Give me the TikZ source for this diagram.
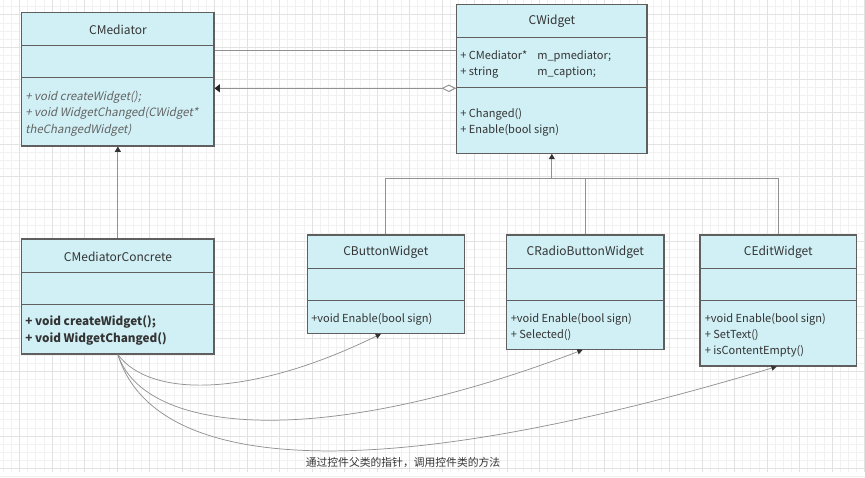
\documentclass[tikz,border=0pt]{standalone}
\usepackage{fontspec}
\setmainfont{Noto Sans CJK SC}[AutoFakeSlant=0.2]
\usetikzlibrary{arrows.meta,fit}
\definecolor{boxfill}{RGB}{208,240,245}
\definecolor{boxline}{RGB}{95,95,95}
\definecolor{txt}{RGB}{52,52,52}
\definecolor{itxt}{RGB}{100,100,100}
\definecolor{conncol}{RGB}{145,145,145}
\definecolor{gridminor}{RGB}{241,241,241}
\definecolor{gridmajor}{RGB}{226,226,226}
\begin{document}
\begin{tikzpicture}[x=0.75pt,y=-0.75pt,
  classbox/.style={draw=boxline, fill=boxfill, line width=0.8pt, inner sep=0pt},
  sepline/.style={draw=boxline, line width=0.8pt},
  ctitle/.style={text=txt, font=\fontsize{9}{11}\selectfont, inner sep=0pt},
  member/.style={text=txt, font=\fontsize{8.3}{11}\selectfont, anchor=base west, inner sep=0pt},
  imember/.style={member, text=itxt, font=\fontsize{8.6}{11}\selectfont\itshape},
  bmember/.style={member, font=\fontsize{8.8}{11}\selectfont\bfseries},
  conn/.style={draw=conncol, line width=0.7pt},
  inherit/.style={conn, -{Triangle[length=4pt,width=4.5pt,fill=black!80,color=black!80]}},
  curvearrow/.style={conn, line width=0.55pt, -{Triangle[length=4pt,width=4pt,fill=black!80,color=black!80]}},
  note/.style={text=txt, font=\fontsize{8.1}{10}\selectfont, inner sep=0pt}]
\useasboundingbox (0,0) rectangle (865,478);
\fill[white] (0,0) rectangle (865,478);
% grid
\foreach \k in {0,...,107} {
  \draw[gridminor, line width=0.4pt] ({3.25+8.125*\k},0) -- ({3.25+8.125*\k},472);
}
\foreach \k in {0,...,58} {
  \draw[gridminor, line width=0.4pt] (0,{6.6+8.1*\k}) -- (865,{6.6+8.1*\k});
}
\foreach \k in {0,...,26} {
  \draw[gridmajor, line width=0.5pt] ({19.5+32.5*\k},0) -- ({19.5+32.5*\k},472);
}
\foreach \k in {0,...,14} {
  \draw[gridmajor, line width=0.5pt] (0,{14.8+32.4*\k}) -- (865,{14.8+32.4*\k});
}

% CMediator
\node[classbox, fit={(21.7,12.3) (214,146)}] (cm) {};
\draw[sepline] (cm.west |- 0,45.7) -- (cm.east |- 0,45.7);
\draw[sepline] (cm.west |- 0,77.7) -- (cm.east |- 0,77.7);
\node[ctitle] (cmt) at (118,29.5) {CMediator};
\node[imember] (cm1) at (25,100.5) {+ void createWidget();};
\node[imember] (cm2) at (25,117) {+ void WidgetChanged(CWidget*};
\node[imember] (cm3) at (25,133) {theChangedWidget)};

% CWidget
\node[classbox, fit={(456.7,4.7) (647,153.3)}] (cw) {};
\draw[sepline] (cw.west |- 0,37.7) -- (cw.east |- 0,37.7);
\draw[sepline] (cw.west |- 0,87.7) -- (cw.east |- 0,87.7);
\node[ctitle] (cwt) at (552,21.5) {CWidget};
\node[member] (cwa1) at (460,59.5) {+ CMediator*};
\node[member] (cwa1b) at (537,59.5) {m\_pmediator;};
\node[member] (cwa2) at (460,76) {+ string};
\node[member] (cwa2b) at (537,76) {m\_caption;};
\node[member] (cwm1) at (460,117.5) {+ Changed()};
\node[member] (cwm2) at (460,133.5) {+ Enable(bool sign)};

% CMediatorConcrete
\node[classbox, fit={(21.7,239) (214,354)}] (cmc) {};
\draw[sepline] (cmc.west |- 0,272.7) -- (cmc.east |- 0,272.7);
\draw[sepline] (cmc.west |- 0,304.3) -- (cmc.east |- 0,304.3);
\node[ctitle] (cmct) at (118,256.5) {CMediatorConcrete};
\node[bmember] (cmc1) at (25,325.5) {+ void createWidget();};
\node[bmember] (cmc2) at (25,342) {+ void WidgetChanged()};

% CButtonWidget
\node[classbox, fit={(307.3,235) (464.3,333.3)}] (cbtn) {};
\draw[sepline] (cbtn.west |- 0,268.3) -- (cbtn.east |- 0,268.3);
\draw[sepline] (cbtn.west |- 0,300.3) -- (cbtn.east |- 0,300.3);
\node[ctitle] (cbtnt) at (385.8,252.5) {CButtonWidget};
\node[member] (cbtn1) at (311,322) {+void Enable(bool sign)};

% CRadioButtonWidget
\node[classbox, fit={(506.7,235) (664,349.3)}] (crb) {};
\draw[sepline] (crb.west |- 0,268.3) -- (crb.east |- 0,268.3);
\draw[sepline] (crb.west |- 0,300.3) -- (crb.east |- 0,300.3);
\node[ctitle] (crbt) at (585.3,252.5) {CRadioButtonWidget};
\node[member] (crb1) at (510.5,322) {+void Enable(bool sign)};
\node[member] (crb2) at (510.5,338.5) {+ Selected()};

% CEditWidget
\node[classbox, fit={(700,235) (856.7,366)}] (ced) {};
\draw[sepline] (ced.west |- 0,268.3) -- (ced.east |- 0,268.3);
\draw[sepline] (ced.west |- 0,300.3) -- (ced.east |- 0,300.3);
\node[ctitle] (cedt) at (778.3,252.5) {CEditWidget};
\node[member] (ced1) at (704.5,322) {+void Enable(bool sign)};
\node[member] (ced2) at (704.5,338) {+ SetText()};
\node[member] (ced3) at (704.5,354) {+ isContentEmpty()};

% associations between CMediator and CWidget
\draw[conn] (cm.east |- 0,50) -- (cw.west |- 0,50);
\draw[conn, {Diamond[open,length=11pt,width=5.5pt,fill=white,color=conncol]}-{Triangle[length=4pt,width=6pt,fill=black!85,color=black!85]}]
  (cw.west |- 0,88.3) -- (cm.east |- 0,88.3);

% inheritance CMediatorConcrete -> CMediator
\draw[inherit] (cmc.north) -- (cm.south);

% inheritance tree for widgets
\coordinate (tj) at (552,178.3);
\draw[conn] (cbtn.north) |- (cw.south |- tj);
\draw[conn] (ced.north) |- (cw.south |- tj);
\draw[conn] (crb.north) -- (crb.north |- tj);
\draw[inherit] (cw.south |- tj) -- (cw.south);

% call curves
\draw[curvearrow] (cmc.south) .. controls (150,398) and (250,398) .. ([xshift=-3.6pt]cbtn.south);
\draw[curvearrow] (cmc.south) .. controls (145,435) and (320,450) .. ([xshift=-2pt]crb.south);
\draw[curvearrow] (cmc.south) .. controls (155,475) and (380,486) .. ([xshift=-1.2pt]ced.south);

\node[note] (lbl) at (403,463) {通过控件父类的指针，调用控件类的方法};
\end{tikzpicture}
\end{document}
